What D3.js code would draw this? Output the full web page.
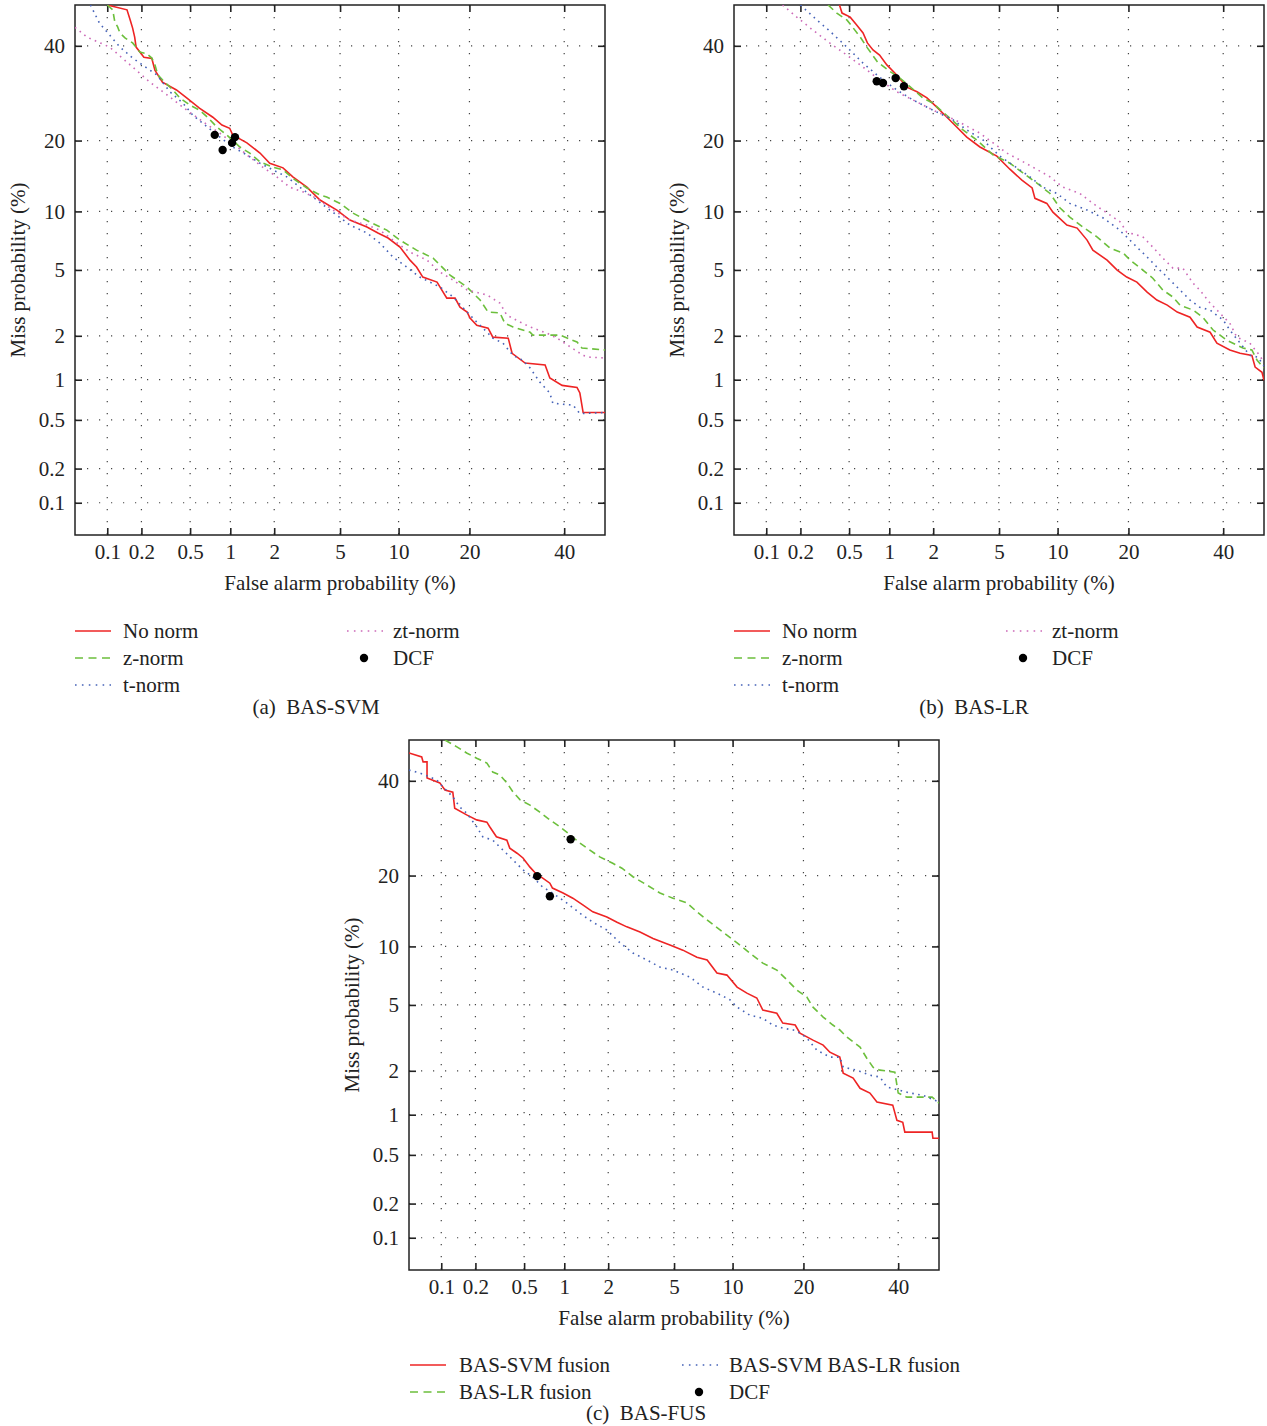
<!DOCTYPE html>
<html>
<head>
<meta charset="utf-8">
<script src="https://cdn.jsdelivr.net/npm/d3@7"></script>
<style>
  body { margin: 0; background: #fff; }
  svg text { font-family: "Liberation Serif", "Times New Roman", serif; fill: #222; }
</style>
</head>
<body>
<div id="chart"></div>
<script>
// tick values (percent) shared by both axes of every panel
const tickVals = [0.1, 0.2, 0.5, 1, 2, 5, 10, 20, 40];
const tickLabels = ["0.1", "0.2", "0.5", "1", "2", "5", "10", "20", "40"];

// (a) BAS-SVM  -- [false alarm %, miss %]
const aNoNorm = [[0.10,50],[0.15,48.8],[0.16,46.3],[0.168,44.3],[0.175,42.1],[0.18,39.7],[0.21,37.3],[0.245,37.0],[0.26,34.3],[0.30,31.6],[0.39,29.9],[0.47,28.2],[0.59,26.1],[0.745,24.3],[0.87,22.8],[0.99,22.2],[1.04,21.0],[1.31,19.6],[1.61,17.9],[1.87,16.3],[2.28,15.6],[2.63,14.3],[3.21,12.9],[3.84,11.3],[4.8,10.15],[5.66,9.09],[6.97,8.4],[7.93,7.84],[8.9,7.4],[10.15,6.64],[11.3,5.66],[12.1,5.19],[12.9,4.56],[14.85,4.27],[16.3,3.44],[17.6,3.44],[18.4,3.03],[19.6,2.83],[20.1,2.6],[21.3,2.34],[23.4,2.24],[24.3,1.96],[27.4,1.93],[28.2,1.53],[31.0,1.31],[35.5,1.27],[36.6,1.03],[39.5,0.91],[43.1,0.88],[43.8,0.80],[44.6,0.57],[50,0.57]];
const aZNorm = [[0.10,50],[0.112,48.8],[0.117,45.8],[0.124,44.6],[0.13,43.1],[0.144,41.9],[0.168,40.7],[0.194,38.5],[0.222,38.1],[0.245,37.1],[0.26,35.5],[0.275,33.2],[0.30,32.1],[0.365,29.9],[0.415,28.2],[0.50,26.7],[0.59,25.7],[0.68,24.3],[0.80,22.4],[0.94,21.0],[1.17,18.9],[1.37,17.9],[1.61,16.5],[1.96,15.7],[2.28,15.3],[2.63,14.1],[3.21,12.8],[3.84,11.9],[4.2,11.65],[5.0,10.9],[5.88,9.82],[7.22,8.88],[8.78,8.11],[10.15,7.22],[12.1,6.4],[14.3,5.8],[16.8,4.68],[19.6,3.99],[21.9,3.35],[23.4,2.83],[25.7,2.8],[26.7,2.41],[28.4,2.28],[32.1,2.11],[32.7,2.02],[39.0,2.02],[43.1,1.82],[44.3,1.66],[50,1.61]];
const aTNorm = [[0.07,50],[0.085,45.5],[0.105,42.6],[0.13,39.7],[0.168,37.1],[0.222,34.8],[0.27,33.2],[0.345,29.5],[0.44,27.1],[0.525,24.7],[0.68,22.4],[0.84,20.6],[1.04,18.9],[1.31,17.6],[1.61,16.3],[1.96,15.3],[2.41,14.3],[2.91,12.9],[3.49,11.65],[4.38,10.15],[5.66,8.6],[6.97,7.84],[8.11,6.97],[9.4,5.88],[10.9,5.19],[12.5,4.56],[15.3,3.99],[17.3,3.49],[19.6,2.83],[21.3,2.45],[23.2,2.11],[24.3,1.93],[26.3,1.79],[28.4,1.48],[30.5,1.37],[32.1,1.21],[34.3,0.96],[36.6,0.80],[37.3,0.67],[42.1,0.65],[43.8,0.56],[50,0.57]];
const aZtNorm = [[0.05,44.5],[0.065,42.1],[0.105,39.7],[0.168,35.0],[0.236,31.6],[0.345,28.4],[0.47,25.7],[0.63,23.4],[0.84,21.3],[1.04,19.6],[1.31,17.6],[1.68,15.7],[2.08,14.3],[2.52,12.9],[3.03,12.3],[3.68,11.5],[4.56,10.15],[5.66,9.09],[6.97,8.6],[8.11,8.11],[9.4,7.22],[11.3,6.25],[13.45,5.66],[15.3,4.86],[17.3,4.38],[19.6,3.84],[23.2,3.59],[25.7,3.21],[27.1,2.71],[29.9,2.45],[32.1,2.28],[35.9,2.08],[38.3,1.93],[44.6,1.48],[46.3,1.44],[50,1.42]];
const aDcf = [[0.77,21.0],[0.88,18.4],[1.03,19.6],[1.08,20.6]];

// (b) BAS-LR
const bNoNorm = [[0.42,50],[0.44,48.0],[0.51,47.0],[0.57,45.1],[0.64,43.1],[0.69,40.7],[0.76,39.0],[0.85,37.8],[0.96,35.5],[1.13,33.2],[1.33,30.5],[1.56,29.5],[1.82,28.2],[2.11,26.3],[2.45,24.3],[2.83,22.4],[3.25,20.6],[3.89,18.9],[4.86,17.4],[5.73,15.4],[6.64,13.85],[7.5,12.8],[7.75,11.5],[8.88,10.9],[9.5,9.92],[11.05,8.6],[12.3,8.3],[13.6,7.22],[14.4,6.4],[16.5,5.66],[18.1,4.99],[19.7,4.56],[21.5,4.27],[23.4,3.73],[25.3,3.35],[27.4,3.12],[29.5,2.83],[32.3,2.63],[33.9,2.28],[36.9,2.11],[38.5,1.79],[41.6,1.61],[44.1,1.53],[47.0,1.48],[47.8,1.23],[49.5,1.13],[50,0.99]];
const bZNorm = [[0.34,50],[0.40,48.0],[0.48,46.3],[0.53,44.6],[0.61,42.1],[0.69,39.5],[0.82,36.2],[0.98,34.3],[1.19,32.5],[1.46,30.1],[1.71,28.2],[1.99,27.1],[2.31,25.3],[2.67,23.6],[3.08,21.9],[3.73,20.1],[4.62,17.6],[5.73,16.3],[6.72,14.85],[7.93,13.45],[9.2,12.1],[10.25,10.4],[11.4,9.4],[13.05,8.4],[14.98,7.5],[16.95,6.56],[19.1,6.18],[20.3,5.66],[22.6,4.99],[24.5,4.49],[26.5,3.84],[28.6,3.49],[30.1,3.12],[33.0,2.91],[35.2,2.63],[37.6,2.18],[40.9,1.87],[44.8,1.66],[47.0,1.61],[48.3,1.37],[50,1.21]];
const bTNorm = [[0.20,50],[0.275,46.3],[0.35,43.6],[0.48,39.7],[0.64,35.9],[0.85,32.7],[1.13,29.9],[1.46,27.8],[1.99,25.7],[2.67,23.8],[3.25,21.9],[4.05,20.1],[5.05,17.4],[6.25,15.6],[7.3,14.3],[8.5,12.9],[9.92,12.1],[11.4,10.9],[13.6,10.15],[15.9,9.3],[18.1,8.3],[19.7,7.5],[21.5,6.64],[23.4,5.88],[25.9,4.99],[28.0,4.38],[30.1,3.84],[32.3,3.35],[34.5,3.03],[36.9,2.91],[40.0,2.52],[41.6,2.18],[44.1,1.79],[46.5,1.48],[48.5,1.44],[50,1.25]];
const bZtNorm = [[0.14,50],[0.186,47.0],[0.255,43.8],[0.35,40.7],[0.48,37.8],[0.64,35.0],[0.85,32.1],[1.13,29.5],[1.46,27.8],[1.99,25.7],[2.75,23.8],[3.89,21.3],[5.52,17.9],[6.47,16.8],[7.57,15.7],[9.2,14.3],[10.6,12.9],[12.65,12.1],[14.4,10.9],[16.5,9.82],[18.6,8.9],[19.7,7.93],[22.6,7.5],[24.5,6.64],[26.5,5.8],[28.6,5.12],[30.7,5.12],[33.0,4.2],[34.5,3.84],[36.9,3.21],[39.2,2.79],[41.6,2.41],[43.3,1.96],[46.5,1.79],[48.5,1.53],[50,1.33]];
const bDcf = [[0.81,31.8],[0.90,31.4],[1.11,32.5],[1.27,30.7]];

// (c) BAS-FUS
const cSvmFusion = [[0.05,46.8],[0.066,45.8],[0.068,44.6],[0.074,44.6],[0.074,40.7],[0.097,39.5],[0.108,37.8],[0.127,37.3],[0.132,33.6],[0.168,32.1],[0.205,31.0],[0.25,30.5],[0.264,29.5],[0.30,27.4],[0.365,26.7],[0.385,25.1],[0.44,24.1],[0.49,23.2],[0.555,21.5],[0.63,20.1],[0.69,19.6],[0.785,18.7],[0.82,17.9],[0.98,17.1],[1.15,16.3],[1.35,15.3],[1.58,14.3],[1.96,13.6],[2.28,12.9],[2.63,12.3],[3.17,11.65],[3.79,10.9],[4.74,10.15],[5.59,9.6],[6.64,8.88],[7.5,8.6],[8.4,7.4],[9.4,7.22],[10.5,6.25],[11.65,5.8],[12.9,5.46],[13.7,4.68],[15.7,4.49],[16.6,3.94],[18.6,3.84],[19.4,3.44],[21.7,3.12],[23.6,2.91],[24.9,2.63],[26.9,2.45],[27.6,1.93],[29.7,1.79],[31.2,1.53],[33.4,1.42],[35.0,1.23],[38.7,1.17],[39.7,0.91],[41.1,0.88],[41.6,0.745],[48.3,0.745],[48.5,0.67],[50,0.67]];
const cLrFusion = [[0.108,50],[0.138,48.3],[0.168,46.8],[0.205,45.5],[0.25,44.3],[0.28,42.1],[0.32,41.4],[0.365,39.5],[0.41,37.3],[0.465,35.5],[0.555,34.3],[0.66,32.7],[0.785,31.0],[0.93,29.5],[1.10,27.8],[1.29,26.1],[1.51,24.7],[1.76,23.4],[2.14,22.2],[2.45,21.3],[2.87,19.8],[3.49,18.4],[4.16,17.1],[4.93,16.3],[5.88,15.6],[6.64,14.3],[7.75,12.9],[8.98,11.65],[10.5,10.4],[12.0,9.3],[13.7,8.3],[15.7,7.66],[17.3,6.8],[18.9,6.02],[20.6,5.52],[21.7,4.86],[23.6,4.27],[25.5,3.84],[26.9,3.59],[28.4,3.25],[31.2,2.83],[32.7,2.41],[34.1,2.11],[35.7,2.02],[39.2,1.96],[40.0,1.42],[42.1,1.33],[48.3,1.33],[50,1.21]];
const cSvmLrFusion = [[0.05,42.6],[0.063,41.9],[0.079,40.9],[0.091,40.2],[0.104,38.5],[0.127,36.2],[0.146,33.9],[0.168,32.5],[0.205,29.5],[0.231,27.4],[0.28,26.7],[0.34,24.7],[0.41,22.8],[0.49,21.0],[0.58,19.8],[0.69,18.1],[0.82,17.1],[1.04,15.6],[1.29,14.1],[1.58,12.9],[1.96,11.9],[2.38,10.4],[2.87,9.3],[3.49,8.6],[4.16,7.93],[4.93,7.66],[6.1,7.05],[7.14,6.25],[8.4,5.8],[9.7,5.35],[10.5,4.86],[12.0,4.38],[13.7,4.2],[15.1,3.84],[16.6,3.68],[18.3,3.59],[19.4,3.44],[20.6,3.21],[22.4,2.71],[24.9,2.45],[26.9,2.45],[27.6,2.11],[30.5,2.02],[33.4,1.87],[35.7,1.82],[37.3,1.56],[40.4,1.48],[42.9,1.42],[46.0,1.37],[50,1.23]];
const cDcf = [[1.11,26.9],[0.63,19.9],[0.785,16.6]];

const legendA = ["No norm", "z-norm", "t-norm", "zt-norm", "DCF"];
const legendC = ["BAS-SVM fusion", "BAS-LR fusion", "BAS-SVM BAS-LR fusion", "DCF"];

// line styles (legend samples use a slightly longer dash pattern)
const RED = { color: "#ee2424", width: 1.6, dash: null, legDash: null };
const GREEN = { color: "#6cbf3c", width: 1.6, dash: "7,4.5", legDash: "8,5.5" };
const BLUE = { color: "#4663b8", width: 1.6, dash: "1.6,4.4", legDash: "1.6,5.3" };
const MAGENTA = { color: "#cc6ab8", width: 1.6, dash: "1.6,4.4", legDash: "1.6,5.3" };

// inverse normal CDF (Acklam)
function probit(p) {
  const a = [-3.969683028665376e+01, 2.209460984245205e+02, -2.759285104469687e+02, 1.383577518672690e+02, -3.066479806614716e+01, 2.506628277459239e+00];
  const b = [-5.447609879822406e+01, 1.615858368580409e+02, -1.556989798598866e+02, 6.680131188771972e+01, -1.328068155288572e+01];
  const c = [-7.784894002430293e-03, -3.223964580411365e-01, -2.400758277161838e+00, -2.549732539343734e+00, 4.374664141464968e+00, 2.938163982698783e+00];
  const d = [7.784695709041462e-03, 3.224671290700398e-01, 2.445134137142996e+00, 3.754408661907416e+00];
  const pl = 0.02425;
  if (p < pl) {
    const q = Math.sqrt(-2 * Math.log(p));
    return (((((c[0]*q+c[1])*q+c[2])*q+c[3])*q+c[4])*q+c[5]) / ((((d[0]*q+d[1])*q+d[2])*q+d[3])*q+1);
  }
  if (p <= 1 - pl) {
    const q = p - 0.5, r = q * q;
    return (((((a[0]*r+a[1])*r+a[2])*r+a[3])*r+a[4])*r+a[5])*q / (((((b[0]*r+b[1])*r+b[2])*r+b[3])*r+b[4])*r+1);
  }
  const q = Math.sqrt(-2 * Math.log(1 - p));
  return -(((((c[0]*q+c[1])*q+c[2])*q+c[3])*q+c[4])*q+c[5]) / ((((d[0]*q+d[1])*q+d[2])*q+d[3])*q+1);
}

const W = 530;
const pz = v => probit(v / 100);
const xs = d3.scaleLinear().domain([pz(0.05), pz(50)]).range([0, W]);
const ys = d3.scaleLinear().domain([pz(0.05), pz(50)]).range([W, 0]);
const x = v => xs(pz(v));
const y = v => ys(pz(v));

const svg = d3.select("#chart").append("svg").attr("width", 1267).attr("height", 1426);

const panels = [
  { id: "a", left: 75, top: 5, caption: "(a)  BAS-SVM", capX: 241, capY: 702,
    series: [[aNoNorm, RED], [aZNorm, GREEN], [aTNorm, BLUE], [aZtNorm, MAGENTA]], dcf: aDcf,
    legend: [[legendA[0], RED, 0, 0], [legendA[1], GREEN, 0, 1], [legendA[2], BLUE, 0, 2], [legendA[3], MAGENTA, 1, 0], [legendA[4], "dcf", 1, 1]],
    legX: [0, 272], legTx: [48, 318], legY: 626 },
  { id: "b", left: 734, top: 5, caption: "(b)  BAS-LR", capX: 240, capY: 702,
    series: [[bNoNorm, RED], [bZNorm, GREEN], [bTNorm, BLUE], [bZtNorm, MAGENTA]], dcf: bDcf,
    legend: [[legendA[0], RED, 0, 0], [legendA[1], GREEN, 0, 1], [legendA[2], BLUE, 0, 2], [legendA[3], MAGENTA, 1, 0], [legendA[4], "dcf", 1, 1]],
    legX: [0, 272], legTx: [48, 318], legY: 626 },
  { id: "c", left: 409, top: 740, caption: "(c)  BAS-FUS", capX: 237, capY: 673,
    series: [[cSvmFusion, RED], [cLrFusion, GREEN], [cSvmLrFusion, BLUE]], dcf: cDcf,
    legend: [[legendC[0], RED, 0, 0], [legendC[1], GREEN, 0, 1], [legendC[2], BLUE, 1, 0], [legendC[3], "dcf", 1, 1]],
    legX: [1, 273], legTx: [50, 320], legY: 625 }
];

function drawPanel(p) {
  const g = svg.append("g").attr("transform", `translate(${p.left},${p.top})`);
  g.append("clipPath").attr("id", "clip-" + p.id).append("rect").attr("width", W).attr("height", W);

  // dotted grid
  const grid = g.append("g").attr("stroke", "#444").attr("stroke-width", 1.2).attr("stroke-dasharray", "1.2,10.8");
  grid.selectAll("line.gx").data(tickVals).join("line").attr("class", "gx")
    .attr("x1", d => x(d)).attr("x2", d => x(d)).attr("y1", 0).attr("y2", W);
  grid.selectAll("line.gy").data(tickVals).join("line").attr("class", "gy")
    .attr("y1", d => y(d)).attr("y2", d => y(d)).attr("x1", 0).attr("x2", W);

  // axes, ticks pointing inwards on all four sides
  const tv = tickVals.map(pz);
  const fmt = (d, i) => tickLabels[i];
  const axes = [
    g.append("g").attr("transform", `translate(0,${W})`).call(d3.axisBottom(xs).tickValues(tv).tickFormat(fmt).tickSize(-7).tickPadding(9)),
    g.append("g").call(d3.axisLeft(ys).tickValues(tv).tickFormat(fmt).tickSize(-7).tickPadding(10)),
    g.append("g").call(d3.axisTop(xs).tickValues(tv).tickFormat("").tickSize(-7)),
    g.append("g").attr("transform", `translate(${W},0)`).call(d3.axisRight(ys).tickValues(tv).tickFormat("").tickSize(-7))
  ];
  axes.forEach(a => {
    a.attr("font-family", null);
    a.select(".domain").remove();
    a.selectAll(".tick line").attr("stroke", "#222").attr("stroke-width", 1.6);
    a.selectAll(".tick text").attr("font-size", 21).attr("fill", "#222");
  });

  g.append("rect").attr("width", W).attr("height", W).attr("fill", "none").attr("stroke", "#222").attr("stroke-width", 1.5);

  // curves
  const line = d3.line().x(d => x(d[0])).y(d => y(d[1]));
  const curves = g.append("g").attr("clip-path", `url(#clip-${p.id})`);
  p.series.forEach(([data, st]) => {
    curves.append("path").datum(data).attr("d", line).attr("fill", "none")
      .attr("stroke", st.color).attr("stroke-width", st.width)
      .attr("stroke-dasharray", st.dash);
  });
  curves.selectAll("circle").data(p.dcf).join("circle")
    .attr("cx", d => x(d[0])).attr("cy", d => y(d[1])).attr("r", 4.2).attr("fill", "#000");

  // axis titles
  g.append("text").attr("x", W / 2).attr("y", W + 55).attr("text-anchor", "middle").attr("font-size", 21)
    .text("False alarm probability (%)");
  g.append("text").attr("transform", `translate(${-50},${W / 2}) rotate(-90)`).attr("text-anchor", "middle")
    .attr("font-size", 21).text("Miss probability (%)");

  // legend
  const leg = g.append("g");
  p.legend.forEach(([label, st, col, row]) => {
    const ly = p.legY + row * 27;
    const lx = p.legX[col];
    if (st === "dcf") {
      leg.append("circle").attr("cx", lx + 17).attr("cy", ly).attr("r", 4.2).attr("fill", "#000");
    } else {
      leg.append("line").attr("x1", lx).attr("x2", lx + 36).attr("y1", ly).attr("y2", ly)
        .attr("stroke", st.color).attr("stroke-width", st.width).attr("stroke-dasharray", st.legDash);
    }
    leg.append("text").attr("x", p.legTx[col]).attr("y", ly + 7).attr("font-size", 21).text(label);
  });

  g.append("text").attr("x", p.capX).attr("y", p.capY + 7).attr("text-anchor", "middle")
    .attr("font-size", 21).style("white-space", "pre").text(p.caption);
}

panels.forEach(drawPanel);
</script>
</body>
</html>
